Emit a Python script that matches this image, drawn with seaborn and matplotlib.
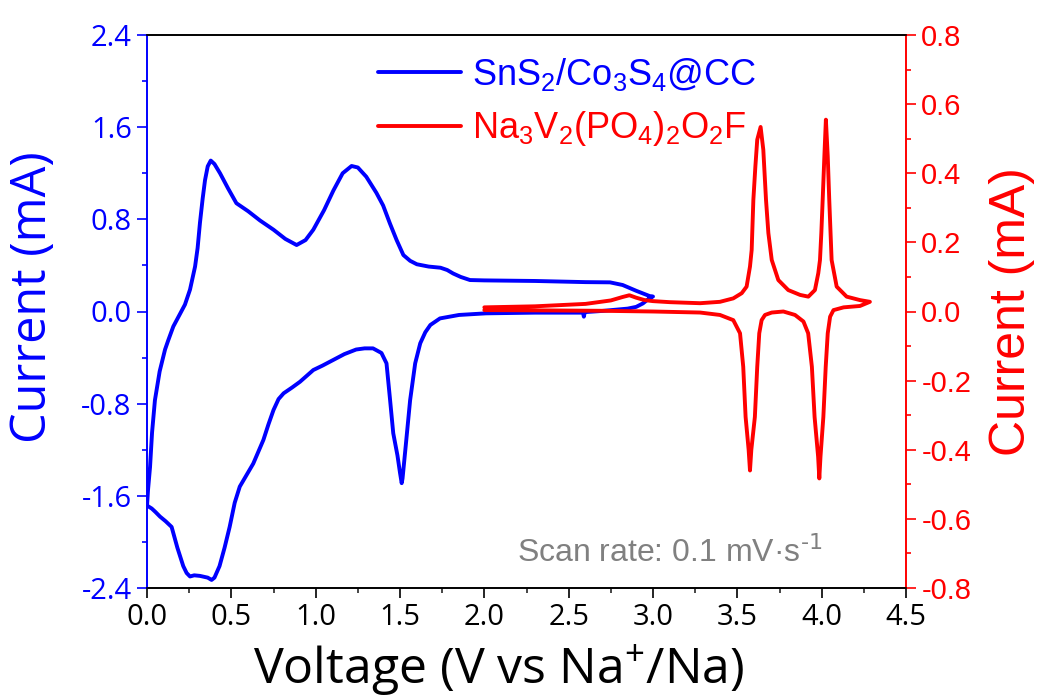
import matplotlib
matplotlib.use("Agg")
import matplotlib.pyplot as plt
import seaborn as sns
import pandas as pd
from matplotlib.ticker import AutoMinorLocator

# ---------------- data ----------------
# SnS2/Co3S4@CC : anodic branch 0 -> 3 V, then cathodic branch 3 -> 0 V (left axis, mA)
blue_v = [0.0, 0.006, 0.018, 0.03, 0.047, 0.075, 0.107, 0.126, 0.156, 0.196, 0.225, 0.255,
          0.285, 0.30, 0.314, 0.33, 0.344, 0.36, 0.378, 0.40, 0.433, 0.48, 0.53, 0.60, 0.67,
          0.75, 0.82, 0.887, 0.94, 0.986, 1.05, 1.105, 1.16, 1.213, 1.25, 1.30, 1.36, 1.40,
          1.44, 1.48, 1.52, 1.56, 1.60, 1.67, 1.74, 1.78, 1.815, 1.86, 1.915, 2.0, 2.3, 2.6,
          2.745, 2.82, 2.9, 2.98, 3.0,
          2.98, 2.94, 2.9, 2.85, 2.7, 2.6, 2.595, 2.59, 2.585, 2.3, 2.01, 1.85, 1.737, 1.68,
          1.65, 1.62, 1.59, 1.56, 1.535, 1.515, 1.51, 1.50, 1.485, 1.46, 1.44, 1.42, 1.39,
          1.34, 1.29, 1.24, 1.17, 1.105, 1.04, 0.986, 0.907, 0.86, 0.81, 0.78, 0.75, 0.72,
          0.69, 0.63, 0.55, 0.52, 0.49, 0.46, 0.43, 0.40, 0.383, 0.36, 0.314, 0.28, 0.255,
          0.235, 0.215, 0.18, 0.146, 0.11, 0.077, 0.05, 0.028, 0.006]
blue_i = [-1.69, -1.55, -1.35, -1.05, -0.77, -0.52, -0.33, -0.25, -0.13, -0.02, 0.06, 0.19,
          0.39, 0.55, 0.77, 0.98, 1.14, 1.26, 1.31, 1.28, 1.20, 1.07, 0.94, 0.87, 0.79,
          0.71, 0.63, 0.577, 0.62, 0.71, 0.88, 1.05, 1.20, 1.263, 1.25, 1.17, 1.03, 0.92,
          0.765, 0.62, 0.49, 0.44, 0.41, 0.39, 0.38, 0.36, 0.33, 0.30, 0.273, 0.27, 0.265, 0.255,
          0.253, 0.23, 0.18, 0.134, 0.13,
          0.117, 0.07, 0.04, 0.025, 0.005, -0.005, -0.01, -0.045, -0.01, -0.01, -0.016, -0.03,
          -0.06, -0.117, -0.18, -0.276, -0.45, -0.77, -1.15, -1.45, -1.49, -1.40, -1.25, -1.057,
          -0.75, -0.45, -0.36, -0.32, -0.32, -0.33, -0.37, -0.42, -0.47, -0.508, -0.61, -0.66,
          -0.71, -0.76, -0.855, -0.98, -1.115, -1.32, -1.52, -1.66, -1.87, -2.05, -2.21, -2.31,
          -2.33, -2.31, -2.295, -2.29, -2.30, -2.27, -2.21, -2.05, -1.87, -1.82, -1.78, -1.74,
          -1.71, -1.69]

# Na3V2(PO4)2O2F : charge branch 2 -> 4.29 V, then discharge branch back to 2 V (right axis, mA)
red_v = [2.0, 2.3, 2.6, 2.75, 2.82, 2.86, 2.9, 2.95, 3.0, 3.1, 3.279, 3.397, 3.476, 3.526,
         3.555, 3.575, 3.585, 3.595, 3.607, 3.618, 3.638, 3.654, 3.670, 3.684, 3.704, 3.743,
         3.802, 3.872, 3.921, 3.960, 3.980, 3.990, 3.998, 4.006, 4.016, 4.025, 4.036, 4.045,
         4.059, 4.089, 4.148, 4.227, 4.286,
         4.227, 4.13, 4.07, 4.05, 4.036, 4.024, 4.01, 3.993, 3.986, 3.979, 3.958, 3.942, 3.92,
         3.892, 3.842, 3.773, 3.704, 3.664, 3.644, 3.63, 3.618, 3.604, 3.583, 3.575, 3.567,
         3.549, 3.535, 3.516, 3.476, 3.397, 3.279, 3.0, 2.7, 2.4, 2.0]
red_i = [0.012, 0.015, 0.022, 0.032, 0.042, 0.047, 0.040, 0.033, 0.030, 0.027, 0.024, 0.028,
         0.038, 0.053, 0.072, 0.130, 0.178, 0.323, 0.420, 0.497, 0.534, 0.468, 0.323, 0.227,
         0.149, 0.091, 0.062, 0.048, 0.043, 0.062, 0.111, 0.149, 0.227, 0.323, 0.449, 0.555,
         0.449, 0.323, 0.149, 0.072, 0.043, 0.033, 0.028,
         0.016, 0.012, 0.004, -0.015, -0.063, -0.16, -0.305, -0.42, -0.483, -0.42, -0.305,
         -0.16, -0.063, -0.029, -0.01, 0.0, -0.003, -0.01, -0.025, -0.063, -0.16, -0.305,
         -0.40, -0.46, -0.40, -0.305, -0.16, -0.063, -0.025, -0.01, -0.003, 0.0, 0.002,
         0.003, 0.004]

xticks = [0.0, 0.5, 1.0, 1.5, 2.0, 2.5, 3.0, 3.5, 4.0, 4.5]
left_ticks = [-2.4, -1.6, -0.8, 0.0, 0.8, 1.6, 2.4]
right_ticks = [-0.8, -0.6, -0.4, -0.2, 0.0, 0.2, 0.4, 0.6, 0.8]

label_blue = r"SnS$_\mathregular{2}$/Co$_\mathregular{3}$S$_\mathregular{4}$@CC"
label_red = r"Na$_\mathregular{3}$V$_\mathregular{2}$(PO$_\mathregular{4}$)$_\mathregular{2}$O$_\mathregular{2}$F"

BLUE = "#0000FF"
RED = "#FF0000"
ARIAL = ["Liberation Sans", "DejaVu Sans"]

# ---------------- style ----------------
sns.set_style("ticks")
plt.rcParams["font.family"] = ["Open Sans", "DejaVu Sans"]
plt.rcParams["axes.linewidth"] = 1.2

df_b = pd.DataFrame({"V": blue_v, "I": blue_i})
df_r = pd.DataFrame({"V": red_v, "I": red_i})

fig = plt.figure(figsize=(10.42, 6.99), dpi=100)
ax = fig.add_axes([147 / 1042, 1 - 588 / 699, (906 - 147) / 1042, (588 - 35) / 699])
ax2 = ax.twinx()

sns.lineplot(data=df_b, x="V", y="I", sort=False, estimator=None, ax=ax,
             color=BLUE, lw=2.8, label=label_blue, legend=False)
sns.lineplot(data=df_r, x="V", y="I", sort=False, estimator=None, ax=ax2,
             color=RED, lw=2.8, label=label_red, legend=False)

ax.set_xlim(0, 4.5)
ax.set_ylim(-2.4, 2.4)
ax2.set_ylim(-0.8, 0.8)
ax.set_xticks(xticks)
ax.set_xticklabels([f"{t:.1f}" for t in xticks])
ax.set_yticks(left_ticks)
ax.set_yticklabels([f"{t:.1f}" for t in left_ticks])
ax2.set_yticks(right_ticks)
ax2.set_yticklabels([f"{t:.1f}" for t in right_ticks])
ax.xaxis.set_minor_locator(AutoMinorLocator(2))
ax.yaxis.set_minor_locator(AutoMinorLocator(2))
ax2.yaxis.set_minor_locator(AutoMinorLocator(2))

for a in (ax, ax2):
    a.spines["left"].set_color(BLUE)
    a.spines["right"].set_color(RED)
    a.spines["top"].set_color("black")
    a.spines["bottom"].set_color("black")
    for s in a.spines.values():
        s.set_linewidth(1.2)

ax.tick_params(axis="x", which="major", direction="out", length=7, width=1.2,
               labelsize=21, pad=4, colors="black")
ax.tick_params(axis="x", which="minor", direction="out", length=3.5, width=1.2)
ax.tick_params(axis="y", which="major", direction="out", length=7, width=1.2,
               labelsize=21, pad=4, colors=BLUE)
ax.tick_params(axis="y", which="minor", direction="out", length=3.5, width=1.2, colors=BLUE)
ax2.tick_params(axis="y", which="major", direction="out", length=7, width=1.2,
                labelsize=21, pad=4, colors=RED)
ax2.tick_params(axis="y", which="minor", direction="out", length=3.5, width=1.2, colors=RED)
for t in ax2.get_yticklabels():
    t.set_family(ARIAL)

ax.set_xlabel(r"Voltage (V vs Na$^\mathregular{+}$/Na)", fontsize=36, color="black")
ax.xaxis.set_label_coords(0.4638, -0.098)
ax.set_ylabel("Current (mA)", fontsize=35, color=BLUE)
ax.yaxis.set_label_coords(-0.117, 0.526)
ax2.set_ylabel("Current (mA)", fontsize=36, color=RED, family=ARIAL)
ax2.yaxis.set_label_coords(1.110, 0.50)

h1, l1 = ax.get_legend_handles_labels()
h2, l2 = ax2.get_legend_handles_labels()
leg = ax.legend(h1 + h2, l1 + l2, loc="upper left", bbox_to_anchor=(0.304, 0.962),
                frameon=False, borderpad=0, borderaxespad=0, handlelength=2.3,
                handletextpad=0.3, labelspacing=0.45,
                prop={"family": ARIAL, "size": 26},
                labelcolor="linecolor")

ax.text(0.4875, 0.0476, r"Scan rate: 0.1 mV·s$^\text{-1}$", transform=ax.transAxes,
        ha="left", va="baseline", fontsize=23, color="#808080", family=ARIAL)

fig.savefig("out.png", dpi=100)
